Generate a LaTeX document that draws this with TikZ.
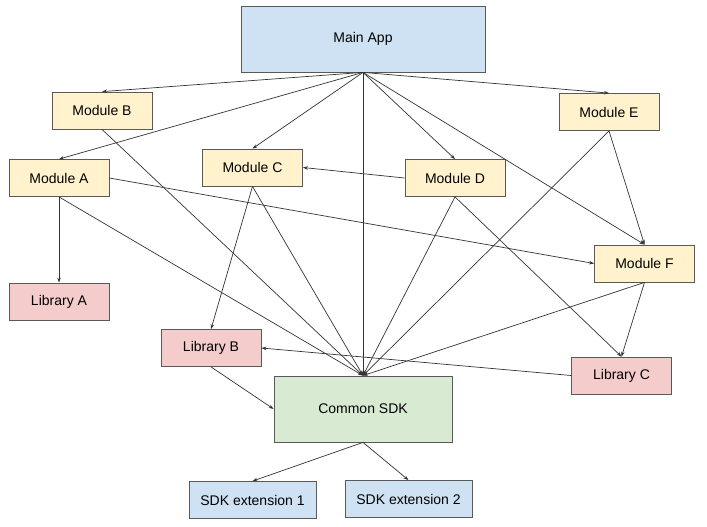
\documentclass[tikz,border=0pt]{standalone}
\usepackage{fontspec}
\setmainfont{Liberation Sans}
\usetikzlibrary{arrows.meta}

\definecolor{appblue}{HTML}{CFE2F3}
\definecolor{modfill}{HTML}{FFF2CC}
\definecolor{libfill}{HTML}{F4CCCC}
\definecolor{sdkfill}{HTML}{D9EAD3}
\definecolor{boxline}{HTML}{595959}
\definecolor{wire}{HTML}{333333}

\tikzset{
  box/.style={draw=boxline, line width=0.8pt, minimum width=100pt, minimum height=37pt,
    inner sep=0pt, font=\fontsize{14}{16}\selectfont},
  module/.style={box, fill=modfill},
  library/.style={box, fill=libfill},
  extbox/.style={box, fill=appblue, minimum width=127pt},
  dep/.style={draw=wire, line width=0.7pt, -{Stealth[length=5pt,width=3.5pt]}}
}

\begin{document}
\begin{tikzpicture}[x=1pt,y=-1pt]
\useasboundingbox (0,0) rectangle (707,527);

\node[box, fill=appblue, minimum width=244pt, minimum height=66pt] (mainapp) at (363,39) {Main App};

\node[module] (modB) at (102,110.5) {Module B};
\node[module] (modE) at (609,112) {Module E};
\node[module] (modA) at (59,178) {Module A};
\node[module] (modC) at (252.5,167.5) {Module C};
\node[module] (modD) at (455,178) {Module D};
\node[module] (modF) at (644.5,263.5) {Module F};

\node[library] (libA) at (59,301.5) {Library A};
\node[library] (libB) at (211,348) {Library B};
\node[library] (libC) at (621.5,375.5) {Library C};

\node[box, fill=sdkfill, minimum width=178pt, minimum height=66pt] (sdk) at (363,409) {Common SDK};

\node[extbox] (ext1) at (252.5,500) {SDK extension 1};
\node[extbox] (ext2) at (408.5,499) {SDK extension 2};

% main app
\draw[dep] (mainapp.south) -- (modB.north);
\draw[dep] (mainapp.south) -- (modA.north);
\draw[dep] (mainapp.south) -- (modC.north);
\draw[dep] (mainapp.south) -- (sdk.north);
\draw[dep] (mainapp.south) -- (modD.north);
\draw[dep] (mainapp.south) -- (modF.north);
\draw[dep] (mainapp.south) -- (modE.north);

% modules
\draw[dep] (modB.south) -- (sdk.north);
\draw[dep] (modA.south) -- (libA.north);
\draw[dep] (modA.south) -- (sdk.north);
\draw[dep] (modA.east) -- (modF.west);
\draw[dep] (modC.south) -- (libB.north);
\draw[dep] (modC.south) -- (sdk.north);
\draw[dep] (modD.west) -- (modC.east);
\draw[dep] (modD.south) -- (sdk.north);
\draw[dep] (modD.south) -- (libC.north);
\draw[dep] (modE.south) -- (sdk.north);
\draw[dep] (modE.south) -- (modF.north);
\draw[dep] (modF.south) -- (libC.north);
\draw[dep] (modF.south) -- (sdk.north);

% libraries
\draw[dep] (libC.west) -- (libB.east);
\draw[dep] (libB.south) -- (sdk.west);

% sdk
\draw[dep] (sdk.south) -- (ext1.north);
\draw[dep] (sdk.south) -- (ext2.north);
\end{tikzpicture}
\end{document}
